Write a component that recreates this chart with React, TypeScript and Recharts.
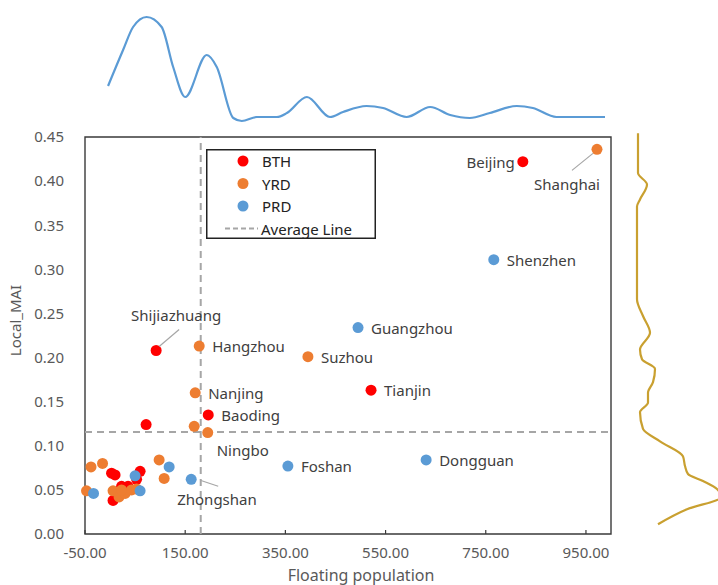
import React from 'react'
import {
  ScatterChart,
  Scatter,
  XAxis,
  YAxis,
  ReferenceLine,
  ReferenceArea,
  Legend,
  LineChart,
  Line,
} from 'recharts'

const FONT = '"Noto Sans", "Open Sans", sans-serif'
const AXIS_GREY = '#595959'
const BOX = '#3a3a3a'

const RED = '#FF0000'
const ORANGE = '#ED7D31'
const BLUE = '#5B9BD5'
const GOLD = '#C9A030'

const GROUP_ORDER = ['BTH', 'YRD', 'PRD']

// Beijing-Tianjin-Hebei
const BTH_NAMES = ['Beijing', 'Tianjin', 'Shijiazhuang', 'Baoding', '', '', '', '', '', '', '', '']
const BTH_POP = [824, 521, 92, 196, 72, 3, 10, 60, 53, 6, 23, 36]
const BTH_MAI = [0.422, 0.163, 0.208, 0.135, 0.124, 0.069, 0.067, 0.071, 0.062, 0.038, 0.054, 0.054]

// Yangtze River Delta
const YRD_NAMES = ['Shanghai', 'Hangzhou', 'Suzhou', 'Nanjing', 'Ningbo', '', '', '', '', '', '', '', '', '', '', '', '']
const YRD_POP = [972, 178, 395, 170, 195, 168, -38, -15, 98, 108, -47, 6, 18, 30, 43, 53, 23]
const YRD_MAI = [0.436, 0.213, 0.201, 0.16, 0.115, 0.122, 0.076, 0.08, 0.084, 0.063, 0.049, 0.049, 0.042, 0.046, 0.05, 0.051, 0.05]

// Pearl River Delta
const PRD_NAMES = ['Shenzhen', 'Guangzhou', 'Dongguan', 'Foshan', 'Zhongshan', '', '', '', '']
const PRD_POP = [766, 495, 631, 355, 162, 50, 118, -33, 60]
const PRD_MAI = [0.311, 0.234, 0.084, 0.077, 0.062, 0.066, 0.076, 0.046, 0.049]

const AVG_POP = 181
const AVG_MAI = 0.1156

const POP_TICKS = [-50, 150, 350, 550, 750, 950]
const MAI_TICKS = [0, 0.05, 0.1, 0.15, 0.2, 0.25, 0.3, 0.35, 0.4, 0.45]

// kernel density of floating population (top margin)
const POP_KDE_X = [-4, 26, 46, 73, 103, 126, 150, 193, 213, 246, 263, 293, 333, 353, 393, 439, 465, 512, 545, 592, 639, 679, 718, 758, 812, 844, 891, 938, 988]
const POP_KDE_Y = [0.39, 0.75, 0.98, 1.08, 0.98, 0.58, 0.28, 0.7, 0.58, 0.07, 0.04, 0.08, 0.08, 0.12, 0.28, 0.08, 0.13, 0.19, 0.17, 0.08, 0.18, 0.1, 0.07, 0.12, 0.19, 0.17, 0.08, 0.08, 0.08]

// kernel density of Local_MAI (right margin)
const MAI_KDE_Y = [0.011, 0.028, 0.042, 0.051, 0.06, 0.068, 0.077, 0.088, 0.105, 0.119, 0.138, 0.149, 0.16, 0.172, 0.187, 0.198, 0.209, 0.228, 0.247, 0.266, 0.371, 0.379, 0.396, 0.409, 0.454]
const MAI_KDE_X = [0.25, 0.54, 0.88, 0.84, 0.7, 0.55, 0.52, 0.5, 0.27, 0.1, 0.07, 0.15, 0.15, 0.2, 0.22, 0.09, 0.07, 0.17, 0.1, 0.04, 0.04, 0.07, 0.14, 0.05, 0.05]

type CityPoint = { pop: number; mai: number; city: string }

const toPoints = (names: string[], pop: number[], mai: number[]): CityPoint[] =>
  pop.map((p, i) => ({ pop: p, mai: mai[i], city: names[i] }))

const bthData = toPoints(BTH_NAMES, BTH_POP, BTH_MAI)
const yrdData = toPoints(YRD_NAMES, YRD_POP, YRD_MAI)
const prdData = toPoints(PRD_NAMES, PRD_POP, PRD_MAI)

const popKde = POP_KDE_X.map((pop, i) => ({ pop, density: POP_KDE_Y[i] }))
const maiKde = MAI_KDE_Y.map((mai, i) => ({ mai, density: MAI_KDE_X[i] }))

// where each city name sits relative to its dot, plus optional leader line
const LABEL_POS: Record<string, { dx: number; dy: number; anchor: 'start' | 'middle' | 'end'; leader?: number[] }> = {
  Beijing: { dx: -8, dy: 0, anchor: 'end' },
  Shanghai: { dx: -30, dy: 35, anchor: 'middle', leader: [-4, 4, -25, 21] },
  Shenzhen: { dx: 13, dy: 0, anchor: 'start' },
  Guangzhou: { dx: 13, dy: 0, anchor: 'start' },
  Hangzhou: { dx: 13, dy: 0, anchor: 'start' },
  Suzhou: { dx: 13, dy: 0, anchor: 'start' },
  Tianjin: { dx: 13, dy: 0, anchor: 'start' },
  Nanjing: { dx: 13, dy: 0, anchor: 'start' },
  Baoding: { dx: 13, dy: 0, anchor: 'start' },
  Ningbo: { dx: 9, dy: 17, anchor: 'start' },
  Foshan: { dx: 13, dy: 0, anchor: 'start' },
  Dongguan: { dx: 13, dy: 0, anchor: 'start' },
  Zhongshan: { dx: -14, dy: 20, anchor: 'start', leader: [9, 1, 27, 7] },
  Shijiazhuang: { dx: 20, dy: -35, anchor: 'middle', leader: [3, -4, 23, -21] },
}

function CityDot(props: any) {
  const { cx, cy, fill, payload } = props
  const pos = payload?.city ? LABEL_POS[payload.city] : undefined
  return (
    <g>
      <circle cx={cx} cy={cy} r={5.5} fill={fill} />
      {pos?.leader && (
        <line
          x1={cx + pos.leader[0]}
          y1={cy + pos.leader[1]}
          x2={cx + pos.leader[2]}
          y2={cy + pos.leader[3]}
          stroke="#a6a6a6"
          strokeWidth={1.2}
        />
      )}
      {pos && (
        <text
          x={cx + pos.dx}
          y={cy + pos.dy}
          textAnchor={pos.anchor}
          dominantBaseline="central"
          fontSize={15}
          fill="#404040"
        >
          {payload.city}
        </text>
      )}
    </g>
  )
}

function PopTick(props: any) {
  const { x, y, payload } = props
  return (
    <g>
      <line x1={x} x2={x} y1={y - 8} y2={y - 12} stroke={BOX} strokeWidth={1.2} />
      <text x={x} y={y} dy={16} textAnchor="middle" fontSize={15} fill={AXIS_GREY}>
        {Number(payload.value).toFixed(2)}
      </text>
    </g>
  )
}

function LegendBox(props: any) {
  const items = (props.payload ?? [])
    .filter((p: any) => GROUP_ORDER.includes(p.value))
    .sort((a: any, b: any) => GROUP_ORDER.indexOf(a.value) - GROUP_ORDER.indexOf(b.value))
  return (
    <svg width={170} height={90}>
      <rect x={0.75} y={0.75} width={168.5} height={88.5} fill="#fff" stroke="#222" strokeWidth={1.5} />
      {items.map((item: any, i: number) => (
        <g key={item.value}>
          <circle cx={37} cy={12 + i * 22.5} r={5.5} fill={item.color} />
          <text x={56} y={12 + i * 22.5} dominantBaseline="central" fontSize={15} fill="#222">
            {item.value}
          </text>
        </g>
      ))}
      <line x1={19} x2={52} y1={79.5} y2={79.5} stroke="#a6a6a6" strokeWidth={2} strokeDasharray="5 3" />
      <text x={55} y={79.5} dominantBaseline="central" fontSize={15} fill="#222">
        Average Line
      </text>
    </svg>
  )
}

export default function App() {
  return (
    <div
      style={{
        position: 'absolute',
        left: 0,
        top: 0,
        width: 718,
        height: 585,
        overflow: 'hidden',
        background: '#fff',
        fontFamily: FONT,
      }}
    >
      {/* main scatter */}
      <div style={{ position: 'absolute', left: 0, top: 0 }}>
        <ScatterChart width={718} height={585} margin={{ top: 137, right: 107, bottom: 0, left: 0 }}>
          <XAxis
            type="number"
            dataKey="pop"
            domain={[-50, 1000]}
            ticks={POP_TICKS}
            height={51}
            axisLine={false}
            tickLine={false}
            tickSize={0}
            tickMargin={8}
            tick={<PopTick />}
            label={{ value: 'Floating population', position: 'insideBottom', offset: 4, fontSize: 16, fill: AXIS_GREY, dx: 13 }}
          />
          <YAxis
            type="number"
            dataKey="mai"
            domain={[0, 0.45]}
            ticks={MAI_TICKS}
            width={85}
            axisLine={false}
            tickLine={false}
            tickSize={0}
            tickMargin={21}
            tickFormatter={(v: number) => v.toFixed(2)}
            tick={{ fontSize: 15, fill: AXIS_GREY }}
            label={{ value: 'Local_MAI', angle: -90, position: 'insideLeft', offset: 16, dy: -15, fontSize: 15, fill: AXIS_GREY, style: { textAnchor: 'middle' } }}
          />
          <ReferenceArea x1={-50} x2={1000} y1={0} y2={0.45} fill="none" stroke={BOX} strokeWidth={1.4} />
          <ReferenceLine x={AVG_POP} stroke="#a6a6a6" strokeWidth={2} strokeDasharray="7 5" />
          <ReferenceLine y={AVG_MAI} stroke="#a6a6a6" strokeWidth={2} strokeDasharray="7 5" />
          <Legend
            layout="vertical"
            align="center"
            verticalAlign="middle"
            wrapperStyle={{ left: 206, top: 149, width: 170, height: 90 }}
            content={<LegendBox />}
          />
          <Scatter name="BTH" data={bthData} fill={RED} shape={<CityDot />} isAnimationActive={false} />
          <Scatter name="YRD" data={yrdData} fill={ORANGE} shape={<CityDot />} isAnimationActive={false} />
          <Scatter name="PRD" data={prdData} fill={BLUE} shape={<CityDot />} isAnimationActive={false} />
        </ScatterChart>
      </div>

      {/* density of floating population, above the plot */}
      <div style={{ position: 'absolute', left: 0, top: 0 }}>
        <LineChart width={718} height={130} data={popKde} margin={{ top: 0, right: 107, bottom: 5, left: 85 }}>
          <XAxis type="number" dataKey="pop" domain={[-50, 1000]} hide />
          <YAxis type="number" domain={[0, 1.25]} hide />
          <Line dataKey="density" type="monotone" stroke={BLUE} strokeWidth={2.2} dot={false} isAnimationActive={false} />
        </LineChart>
      </div>

      {/* density of Local_MAI, right of the plot */}
      <div style={{ position: 'absolute', left: 0, top: 0 }}>
        <LineChart
          layout="vertical"
          width={718}
          height={585}
          data={maiKde}
          margin={{ top: 128, right: 0, bottom: 51, left: 633 }}
        >
          <XAxis type="number" domain={[0, 0.85]} allowDataOverflow hide />
          <YAxis type="number" dataKey="mai" domain={[0, 0.46]} reversed hide />
          <Line dataKey="density" type="monotone" stroke={GOLD} strokeWidth={2.2} dot={false} isAnimationActive={false} />
        </LineChart>
      </div>
    </div>
  )
}
